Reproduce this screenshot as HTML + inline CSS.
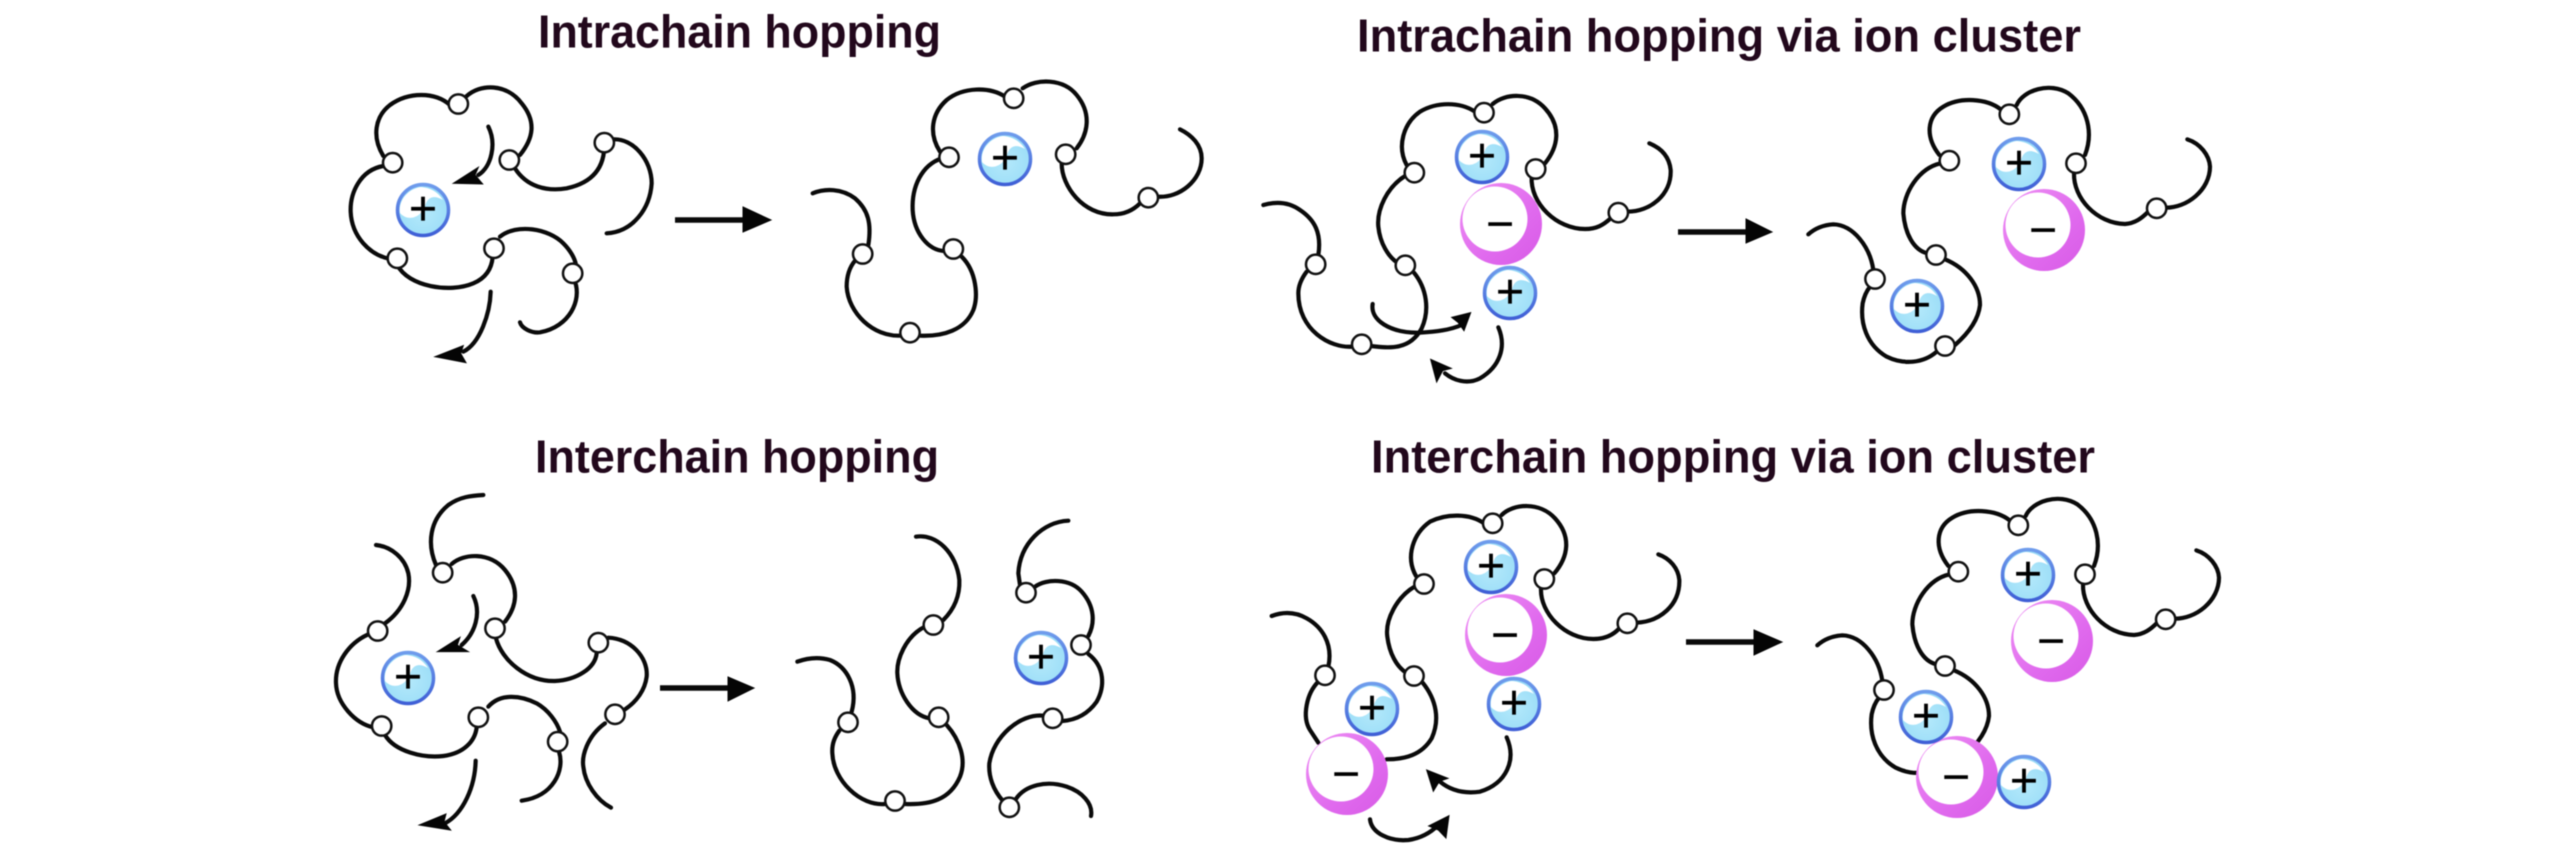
<!DOCTYPE html>
<html><head><meta charset="utf-8"><title>Ion hopping</title>
<style>
html,body{margin:0;padding:0;background:#fff}
svg{display:block;filter:blur(.6px)}
.c path{fill:none;stroke:#0a0a0a;stroke-width:4.2;stroke-linecap:round;vector-effect:non-scaling-stroke}
.c circle{fill:#fff;stroke:#111;stroke-width:2.5;vector-effect:non-scaling-stroke}
.c polygon{fill:#050505;stroke:#050505;stroke-width:1;vector-effect:non-scaling-stroke}
.c path.b{stroke-width:5.5;stroke-linecap:butt}
.t{font:bold 46px "Liberation Sans",sans-serif;fill:#22081c}
.s{font:48px "Liberation Sans",sans-serif;fill:#000;stroke:#000;stroke-width:.3;text-anchor:middle}
</style></head><body>
<svg xmlns="http://www.w3.org/2000/svg" width="2567" height="852" viewBox="0 0 2567 852">
<defs>
<radialGradient id="gb" cx=".5" cy=".55" r=".55"><stop offset="0" stop-color="#b4e9fb"/><stop offset=".85" stop-color="#9fdff8"/><stop offset="1" stop-color="#86c8f3"/></radialGradient>
<linearGradient id="gbs" x1="0" y1="0" x2="0" y2="1"><stop offset="0" stop-color="#6f9cec"/><stop offset="1" stop-color="#3f5fd6"/></linearGradient>
<linearGradient id="gm" x1="0" y1="0" x2="1" y2="1"><stop offset="0" stop-color="#ee90f4"/><stop offset=".6" stop-color="#e06aee"/><stop offset="1" stop-color="#d85ae6"/></linearGradient>
<g id="p"><circle r="25.5" fill="url(#gb)" stroke="url(#gbs)" stroke-width="3.5"/><path d="M-23 3 C-25 -11 -13 -22 -2 -23 C10 -22 16 -16 20 -10 C10 -16 4 -12 2 -4 C-1 6 -14 13 -23 3Z" fill="#fff"/></g>
<g id="m"><circle r="41" fill="url(#gm)"/><circle cx="-6" cy="-5" r="32.5" fill="#fff"/></g>
</defs>
<rect width="2567" height="852" fill="#fff"/>
<text class="t" x="538" y="47.5" textLength="403" lengthAdjust="spacingAndGlyphs">Intrachain hopping</text>
<text class="t" x="1357" y="51.5" textLength="724" lengthAdjust="spacingAndGlyphs">Intrachain hopping via ion cluster</text>
<text class="t" x="535" y="472.5" textLength="404" lengthAdjust="spacingAndGlyphs">Interchain hopping</text>
<text class="t" x="1371" y="472.5" textLength="724" lengthAdjust="spacingAndGlyphs">Interchain hopping via ion cluster</text>

<!-- big arrows -->
<g class="c">
<path class="b" d="M675 220 H745"/><polygon points="743,207 771,220 743,232"/>
<path class="b" d="M1678 232 H1749"/><polygon points="1746,219 1772,232 1746,243"/>
<path class="b" d="M660 688 H732"/><polygon points="728,677 754,688 728,701"/>
<path class="b" d="M1686 642 H1758"/><polygon points="1754,630 1782,642 1754,655"/>
</g>

<!-- Q1 left -->
<g class="c" transform="translate(340,80) scale(.33333)">
<path d="M130 228 C95 170 105 110 150 75 C205 35 285 35 330 75"/>
<path d="M378 50 C420 10 500 10 545 70 C590 125 580 175 540 225"/>
<path d="M525 265 C560 320 620 335 680 325 C750 310 795 270 793 190"/>
<path d="M820 178 C880 175 935 240 935 310 C930 385 880 455 800 460"/>
<path d="M130 258 C60 270 30 340 32 395 C35 470 90 525 150 537"/>
<path d="M172 555 C205 620 330 640 400 610 C435 595 455 570 458 530"/>
<path d="M480 470 C530 430 625 445 670 490 C690 510 705 535 708 555"/>
<path d="M705 605 C725 660 690 740 600 757 C575 760 545 745 540 727"/>
<path d="M445 140 C470 190 455 260 415 285"/><polygon points="340,310 415,262 405,285 428,312"/>
<path d="M452 635 C450 700 420 790 370 815"/><polygon points="285,830 370,797 362,820 378,848"/>
<circle cx="355" cy="72" r="29"/><circle cx="158" cy="248" r="29"/><circle cx="508" cy="240" r="29"/><circle cx="793" cy="188" r="29"/><circle cx="172" cy="535" r="29"/><circle cx="462" cy="505" r="29"/><circle cx="698" cy="580" r="29"/>
</g>

<!-- Q1 right -->
<g class="c" transform="translate(800,70) scale(.33333)">
<path d="M420 245 C385 190 395 130 440 90 C490 50 570 50 615 80"/>
<path d="M668 55 C710 25 790 25 830 75 C875 130 865 190 830 235"/>
<path d="M785 280 C785 350 850 435 940 433 C975 433 1000 420 1020 400"/>
<path d="M1072 380 C1140 385 1205 330 1205 265 C1205 225 1175 195 1140 178"/>
<path d="M425 265 C365 285 335 350 338 420 C342 490 385 540 432 543"/>
<path d="M485 560 C530 605 535 680 520 720 C495 780 430 800 360 797"/>
<path d="M300 797 C220 800 145 730 140 650 C140 615 150 590 165 572"/>
<path d="M205 525 C215 460 205 420 165 385 C125 355 75 355 38 370"/>
<circle cx="641" cy="85" r="29"/><circle cx="447" cy="262" r="29"/><circle cx="797" cy="253" r="29"/><circle cx="1045" cy="383" r="29"/><circle cx="460" cy="537" r="29"/><circle cx="188" cy="552" r="29"/><circle cx="330" cy="788" r="29"/>
</g>

<!-- Q2 left -->
<g class="c" transform="translate(1250,80) scale(.33333)">
<path d="M470 255 C440 200 460 130 510 95 C560 65 630 65 675 95"/>
<path d="M728 72 C765 40 840 35 885 85 C935 140 925 200 885 250"/>
<path d="M845 290 C840 370 920 447 1005 447 C1040 447 1060 435 1082 415"/>
<path d="M1132 395 C1200 395 1265 345 1262 270 C1258 230 1235 205 1198 190"/>
<path d="M470 285 C410 320 380 390 385 440 C390 490 415 530 442 548"/>
<path d="M492 578 C530 625 540 690 515 745 C480 810 420 805 363 798"/>
<path d="M307 800 C240 805 145 750 145 640 C145 615 155 595 170 575"/>
<path d="M205 525 C215 460 195 420 150 390 C115 365 75 365 40 375"/>
<path d="M368 672 C360 720 420 760 510 758 C560 755 600 750 635 735"/><polygon points="662,698 605,712 625,728 642,752"/>
<path d="M745 742 C770 800 750 860 690 895 C650 915 610 900 585 880"/><polygon points="542,838 604,865 578,872 560,906"/>
<circle cx="702" cy="98" r="29"/><circle cx="493" cy="278" r="29"/><circle cx="857" cy="267" r="29"/><circle cx="1105" cy="398" r="29"/><circle cx="466" cy="556" r="29"/><circle cx="197" cy="553" r="29"/><circle cx="335" cy="793" r="29"/>
</g>

<!-- Q2 right -->
<g class="c" transform="translate(1790,70) scale(.33333)">
<path d="M448 255 C405 200 410 140 460 110 C510 80 590 85 632 118"/>
<path d="M680 105 C700 60 780 35 835 70 C895 115 910 190 885 255"/>
<path d="M852 310 C850 385 920 460 1005 462 C1035 460 1055 445 1075 425"/>
<path d="M1125 413 C1190 415 1260 360 1260 290 C1258 255 1230 220 1192 208"/>
<path d="M452 280 C385 295 340 370 340 430 C345 490 370 540 412 550"/>
<path d="M465 568 C530 595 570 650 570 705 C565 750 535 790 495 825"/>
<path d="M440 845 C400 880 340 885 290 860 C230 825 210 760 218 700 C222 680 228 665 240 650"/>
<path d="M250 600 C240 530 190 465 130 463 C100 465 75 475 55 493"/>
<circle cx="658" cy="133" r="29"/><circle cx="478" cy="272" r="29"/><circle cx="858" cy="280" r="29"/><circle cx="1100" cy="415" r="29"/><circle cx="438" cy="555" r="29"/><circle cx="255" cy="627" r="29"/><circle cx="465" cy="828" r="29"/>
</g>

<!-- Q3 left -->
<g class="c" transform="translate(320,480) scale(.33333)">
<path d="M195 430 C250 390 275 330 265 280 C255 235 215 200 168 195"/>
<path d="M348 255 C320 190 330 120 385 75 C420 50 455 47 490 45"/>
<path d="M395 252 C430 220 510 215 555 270 C600 325 590 380 555 425"/>
<path d="M528 475 C545 540 620 605 705 603 C770 600 825 565 830 520"/>
<path d="M865 473 C930 475 985 530 980 590 C975 630 950 665 915 688"/>
<path d="M855 730 C800 770 785 830 790 860 C795 910 830 960 873 983"/>
<path d="M145 463 C85 490 45 550 48 610 C50 670 105 730 160 742"/>
<path d="M195 765 C225 815 310 835 370 828 C430 820 465 785 470 742"/>
<path d="M505 680 C540 640 600 645 650 670 C685 690 710 725 720 755"/>
<path d="M717 815 C735 870 700 950 605 962"/>
<path d="M460 348 C485 400 465 460 425 495"/><polygon points="352,515 420,472 412,495 445,515"/>
<path d="M467 842 C465 920 430 1000 375 1030"/><polygon points="298,1035 378,1002 372,1025 392,1050"/>
<circle cx="368" cy="278" r="29"/><circle cx="173" cy="453" r="29"/><circle cx="525" cy="445" r="29"/><circle cx="835" cy="488" r="29"/><circle cx="185" cy="738" r="29"/><circle cx="475" cy="712" r="29"/><circle cx="713" cy="785" r="29"/><circle cx="885" cy="703" r="29"/>
</g>

<!-- Q3 right -->
<g class="c" transform="translate(780,510) scale(.33333)">
<path d="M408 80 C470 70 530 130 538 210 C540 260 520 300 490 330"/>
<path d="M435 350 C375 380 350 450 352 490 C355 550 395 615 448 625"/>
<path d="M500 645 C540 690 560 750 540 800 C510 870 450 885 375 882"/>
<path d="M317 882 C240 890 160 810 157 730 C155 700 165 680 178 662"/>
<path d="M215 605 C235 530 200 470 150 450 C115 440 80 445 52 455"/>
<path d="M865 32 C790 35 720 100 715 190 L720 225"/>
<path d="M765 230 C800 205 870 205 905 245 C945 290 945 340 925 378"/>
<path d="M925 432 C975 470 975 530 950 575 C925 610 890 630 847 633"/>
<path d="M790 617 C720 610 640 680 628 760 C625 800 640 840 668 872"/>
<path d="M707 868 C735 825 800 810 860 830 C905 845 940 880 933 918"/>
<circle cx="460" cy="345" r="29"/><circle cx="204" cy="637" r="29"/><circle cx="476" cy="622" r="29"/><circle cx="345" cy="873" r="29"/><circle cx="738" cy="248" r="29"/><circle cx="903" cy="405" r="29"/><circle cx="818" cy="625" r="29"/><circle cx="688" cy="892" r="29"/>
</g>

<!-- Q4 left -->
<g class="c" transform="translate(1250,490) scale(.33333)">
<path d="M498 258 C465 200 490 130 540 95 C590 70 660 70 702 100"/>
<path d="M755 75 C790 40 870 35 915 85 C965 140 955 200 913 250"/>
<path d="M873 295 C870 370 945 447 1030 447 C1065 447 1090 435 1108 415"/>
<path d="M1160 398 C1230 395 1290 345 1288 270 C1285 235 1260 205 1225 193"/>
<path d="M497 288 C440 320 405 390 412 440 C418 490 440 530 468 548"/>
<path d="M518 578 C560 630 570 690 545 745 C515 795 465 808 410 808"/>
<path d="M235 530 C250 460 215 410 170 385 C135 365 100 365 65 378"/>
<path d="M205 575 C170 610 155 680 180 720 L205 758"/>
<path d="M770 742 C800 810 770 880 690 905 C640 912 600 900 570 875"/><polygon points="530,840 594,865 568,874 550,904"/>
<path d="M360 988 C365 1030 420 1055 475 1050 C510 1045 540 1030 565 1005"/><polygon points="597,977 536,1008 565,1020 588,1044"/>
<circle cx="728" cy="100" r="29"/><circle cx="522" cy="282" r="29"/><circle cx="883" cy="267" r="29"/><circle cx="1132" cy="400" r="29"/><circle cx="492" cy="558" r="29"/><circle cx="225" cy="556" r="29"/>
</g>

<!-- Q4 right -->
<g class="c" transform="translate(1799,481) scale(.33333)">
<path d="M448 255 C405 200 410 140 460 110 C510 80 590 85 632 118"/>
<path d="M680 105 C700 60 780 35 835 70 C895 115 910 190 885 255"/>
<path d="M852 310 C850 385 920 460 1005 462 C1035 460 1055 445 1075 425"/>
<path d="M1125 413 C1190 415 1260 360 1260 290 C1258 255 1230 220 1192 208"/>
<path d="M452 280 C385 295 340 370 340 430 C345 490 370 540 412 550"/>
<path d="M465 568 C530 595 570 650 570 705 C565 750 535 790 495 825"/>
<path d="M440 845 C400 880 340 885 290 860 C230 825 210 760 218 700 C222 680 228 665 240 650"/>
<path d="M250 600 C240 530 190 465 130 463 C100 465 75 475 55 493"/>
<circle cx="658" cy="133" r="29"/><circle cx="478" cy="272" r="29"/><circle cx="858" cy="280" r="29"/><circle cx="1100" cy="415" r="29"/><circle cx="438" cy="555" r="29"/><circle cx="255" cy="627" r="29"/>
</g>

<!-- anions -->
<use href="#m" x="1501" y="224"/><text class="s" x="1500" y="240">−</text>
<use href="#m" x="2044" y="230"/><text class="s" x="2043" y="246">−</text>
<use href="#m" x="1506" y="635"/><text class="s" x="1505" y="651">−</text>
<use href="#m" x="1347" y="774"/><text class="s" x="1346" y="790">−</text>
<use href="#m" x="2052" y="641"/><text class="s" x="2051" y="657">−</text>
<use href="#m" x="1957" y="777"/><text class="s" x="1956" y="793">−</text>

<!-- cations -->
<use href="#p" x="423" y="210"/><text class="s" x="423" y="225">+</text>
<use href="#p" x="1005" y="159"/><text class="s" x="1005" y="174">+</text>
<use href="#p" x="1482" y="157"/><text class="s" x="1482" y="172">+</text>
<use href="#p" x="1510" y="293"/><text class="s" x="1510" y="308">+</text>
<use href="#p" x="2019" y="164"/><text class="s" x="2019" y="179">+</text>
<use href="#p" x="1917" y="306"/><text class="s" x="1917" y="321">+</text>
<use href="#p" x="408" y="678"/><text class="s" x="408" y="693">+</text>
<use href="#p" x="1041" y="658"/><text class="s" x="1041" y="673">+</text>
<use href="#p" x="1491" y="567"/><text class="s" x="1491" y="582">+</text>
<use href="#p" x="1514" y="704"/><text class="s" x="1514" y="719">+</text>
<use href="#p" x="1372" y="709"/><text class="s" x="1372" y="724">+</text>
<use href="#p" x="2028" y="575"/><text class="s" x="2028" y="590">+</text>
<use href="#p" x="1926" y="717"/><text class="s" x="1926" y="732">+</text>
<use href="#p" x="2024" y="782"/><text class="s" x="2024" y="797">+</text>
</svg>
</body></html>
